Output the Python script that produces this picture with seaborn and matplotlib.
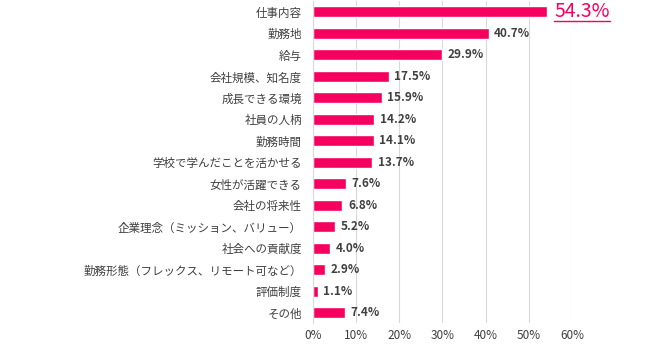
import matplotlib
matplotlib.use("Agg")
import matplotlib.pyplot as plt
import seaborn as sns
import pandas as pd
from matplotlib.lines import Line2D

categories = ["仕事内容", "勤務地", "給与", "会社規模、知名度", "成長できる環境", "社員の人柄",
              "勤務時間", "学校で学んだことを活かせる", "女性が活躍できる", "会社の将来性",
              "企業理念（ミッション、バリュー）", "社会への貢献度", "勤務形態（フレックス、リモート可など）",
              "評価制度", "その他"]
values = [54.3, 40.7, 29.9, 17.5, 15.9, 14.2, 14.1, 13.7, 7.6, 6.8, 5.2, 4.0, 2.9, 1.1, 7.4]
xticks = [0, 10, 20, 30, 40, 50, 60]

sns.set_style("white")
plt.rcParams['font.family'] = ['Noto Sans CJK JP', 'DejaVu Sans']

df = pd.DataFrame({"cat": categories, "val": values})
fig = plt.figure(figsize=(6.5, 3.47), dpi=100)
ax = fig.add_axes([0.4815, 0.068, 0.3985, 0.929])
pink = "#F5005F"
text_col = "#404040"
sns.barplot(data=df, x="val", y="cat", orient="h", color=pink, width=0.5,
            saturation=1, ax=ax)
ax.set_xlim(0, 60)
ax.set_ylim(len(categories) - 0.5, -0.5)
ax.set_xticks(xticks)
ax.set_xticklabels([f"{t}%" for t in xticks], fontsize=8.5, color=text_col)
ax.tick_params(axis="y", labelsize=8.3, labelcolor=text_col, length=0, pad=8)
ax.tick_params(axis="x", length=0, pad=4)
ax.set_xlabel("")
ax.set_ylabel("")
ax.grid(axis="x", color="#d9d9d9", linewidth=0.8)
ax.set_axisbelow(True)
for s in ["top", "right", "bottom"]:
    ax.spines[s].set_visible(False)
ax.spines["left"].set_color("#d9d9d9")
ax.spines["left"].set_linewidth(0.8)

texts = []
for i, v in enumerate(values):
    if i == 0:
        t = ax.annotate(f"{v:.1f}%", xy=(v, i), xytext=(5, 0), textcoords="offset points",
                        va="center", ha="left", fontsize=14, color=pink,
                        annotation_clip=False)
        texts.append(t)
    else:
        ax.annotate(f"{v:.1f}%", xy=(v, i), xytext=(4, 0), textcoords="offset points",
                    va="center", ha="left", fontsize=8.5, color=text_col,
                    fontweight="semibold", annotation_clip=False)

fig.canvas.draw()
r = fig.canvas.get_renderer()
for t in texts:
    bb = t.get_window_extent(r)
    inv = fig.transFigure.inverted()
    (x0, y0), (x1, y1) = inv.transform([(bb.x0, bb.y0 + 1), (bb.x1, bb.y0 + 1)])
    fig.add_artist(Line2D([x0, x1], [y0, y1], color=pink, linewidth=1.0,
                          transform=fig.transFigure))

fig.savefig("out.png", dpi=100)
